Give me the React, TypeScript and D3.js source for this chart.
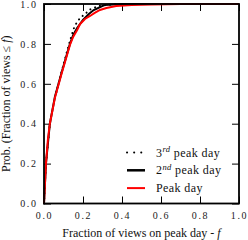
import { FC, useEffect, useRef } from 'react';
import * as d3 from 'd3';

// fraction of views on the day (f) and the cumulative probability
const peakF = [0, 0.005, 0.01, 0.02, 0.03, 0.056, 0.09, 0.133, 0.15, 0.17, 0.185, 0.21, 0.236, 0.26, 0.287, 0.32, 0.37, 0.45, 0.55, 0.7, 1.0];
const peakP = [0, 0.1, 0.2, 0.32, 0.4, 0.53, 0.65, 0.795, 0.836, 0.87, 0.9, 0.925, 0.94, 0.955, 0.97, 0.98, 0.99, 0.995, 0.998, 1, 1];

const secondF = [0, 0.01, 0.03, 0.056, 0.09, 0.133, 0.15, 0.17, 0.2, 0.23, 0.255, 0.31, 0.4, 1.0];
const secondP = [0, 0.2, 0.4, 0.535, 0.655, 0.8, 0.845, 0.88, 0.92, 0.95, 0.97, 0.995, 1, 1];

const thirdF = [0, 0.01, 0.03, 0.056, 0.09, 0.12, 0.142, 0.154, 0.164, 0.185, 0.21, 0.24, 0.28, 0.35, 0.45, 1.0];
const thirdP = [0, 0.2, 0.4, 0.53, 0.66, 0.77, 0.845, 0.88, 0.9, 0.93, 0.95, 0.975, 0.99, 0.998, 1, 1];

const tickValues = [0, 0.2, 0.4, 0.6, 0.8, 1.0];
const legendLabels = [
  { base: '3', sup: 'rd', rest: ' peak day' },
  { base: '2', sup: 'nd', rest: ' peak day' },
  { base: 'Peak day', sup: '', rest: '' },
];

const FONT = '"Liberation Serif", serif';

const App: FC = () => {
  const ref = useRef<SVGSVGElement>(null);

  useEffect(() => {
    const svg = d3.select(ref.current);
    svg.selectAll('*').remove();

    const left = 44, right = 239, top = 4, bottom = 203.5;
    const x = d3.scaleLinear().domain([0, 1]).range([left, right]);
    const y = d3.scaleLinear().domain([0, 1]).range([bottom, top]);

    const fmt = d3.format('.1f');

    //x axis with inward ticks
    const gx = svg
      .append('g')
      .attr('transform', `translate(0,${bottom})`)
      .call(d3.axisBottom(x).tickValues(tickValues).tickFormat(fmt).tickSizeInner(-7).tickSizeOuter(0).tickPadding(8.5));
    //y axis
    const gy = svg
      .append('g')
      .attr('transform', `translate(${left},0)`)
      .call(d3.axisLeft(y).tickValues(tickValues).tickFormat(fmt).tickSizeInner(-7).tickSizeOuter(0).tickPadding(6.5));
    //mirrored ticks
    svg
      .append('g')
      .attr('transform', `translate(0,${top})`)
      .call(d3.axisTop(x).tickValues(tickValues).tickFormat(() => '').tickSizeInner(-7).tickSizeOuter(0));
    svg
      .append('g')
      .attr('transform', `translate(${right},0)`)
      .call(d3.axisRight(y).tickValues(tickValues).tickFormat(() => '').tickSizeInner(-7).tickSizeOuter(0));

    svg.selectAll('.domain').remove();
    svg.selectAll('.tick line').attr('stroke', '#000').attr('stroke-width', 1);
    [gx, gy].forEach((g) =>
      g
        .selectAll('text')
        .attr('font-family', FONT)
        .attr('font-size', 10)
        .attr('letter-spacing', 1.6)
        .attr('fill', '#222')
    );

    const draw = (fs: number[], ps: number[], attrs: Record<string, string | number>) => {
      const l = d3
        .line<number>()
        .x((_, i) => x(fs[i]))
        .y((_, i) => y(ps[i]));
      const p = svg.append('path').attr('d', l(fs)).attr('fill', 'none');
      Object.entries(attrs).forEach(([k, v]) => p.attr(k, v));
    };

    draw(thirdF, thirdP, { stroke: '#000', 'stroke-width': 2, 'stroke-dasharray': '0.1 5', 'stroke-linecap': 'round' });
    draw(secondF, secondP, { stroke: '#000', 'stroke-width': 2 });
    draw(peakF, peakP, { stroke: '#ff0000', 'stroke-width': 2 });

    //frame
    svg
      .append('rect')
      .attr('x', left)
      .attr('y', top)
      .attr('width', right - left)
      .attr('height', bottom - top)
      .attr('fill', 'none')
      .attr('stroke', '#000')
      .attr('stroke-width', 1.8);

    //legend
    const styles = [
      { stroke: '#000', 'stroke-width': 2, 'stroke-dasharray': '0.1 7', 'stroke-linecap': 'round' },
      { stroke: '#000', 'stroke-width': 2.5 },
      { stroke: '#ff0000', 'stroke-width': 2 },
    ];
    legendLabels.forEach((lab, i) => {
      const ly = 152.5 + i * 17.8;
      const ln = svg.append('line').attr('x1', 127).attr('x2', 145).attr('y1', ly).attr('y2', ly);
      Object.entries(styles[i]).forEach(([k, v]) => ln.attr(k, v));
      const t = svg
        .append('text')
        .attr('x', 156)
        .attr('y', ly + 4)
        .attr('font-family', FONT)
        .attr('font-size', 12)
        .attr('letter-spacing', 0.4)
        .attr('fill', '#111');
      t.append('tspan').text(lab.base);
      if (lab.sup) {
        t.append('tspan').attr('dy', -4.5).attr('font-size', 8.5).attr('font-style', 'italic').text(lab.sup);
        t.append('tspan').attr('dy', 4.5).text(lab.rest);
      }
    });

    //axis labels
    const xl = svg
      .append('text')
      .attr('x', (left + right) / 2)
      .attr('y', 237)
      .attr('text-anchor', 'middle')
      .attr('font-family', FONT)
      .attr('font-size', 12)
      .attr('fill', '#111');
    xl.append('tspan').text('Fraction of views on peak day - ');
    xl.append('tspan').attr('font-style', 'italic').text('f');

    const yl = svg
      .append('text')
      .attr('transform', `translate(10,${(top + bottom) / 2}) rotate(-90)`)
      .attr('text-anchor', 'middle')
      .attr('font-family', FONT)
      .attr('font-size', 12)
      .attr('fill', '#111');
    yl.append('tspan').text('Prob. (Fraction of views ≤ ');
    yl.append('tspan').attr('font-style', 'italic').text('f');
    yl.append('tspan').text(')');
  }, []);

  return (
    <svg
      ref={ref}
      width={248}
      height={240}
      style={{ position: 'absolute', left: 0, top: 0, background: '#fff' }}
    />
  );
};

export default App;
